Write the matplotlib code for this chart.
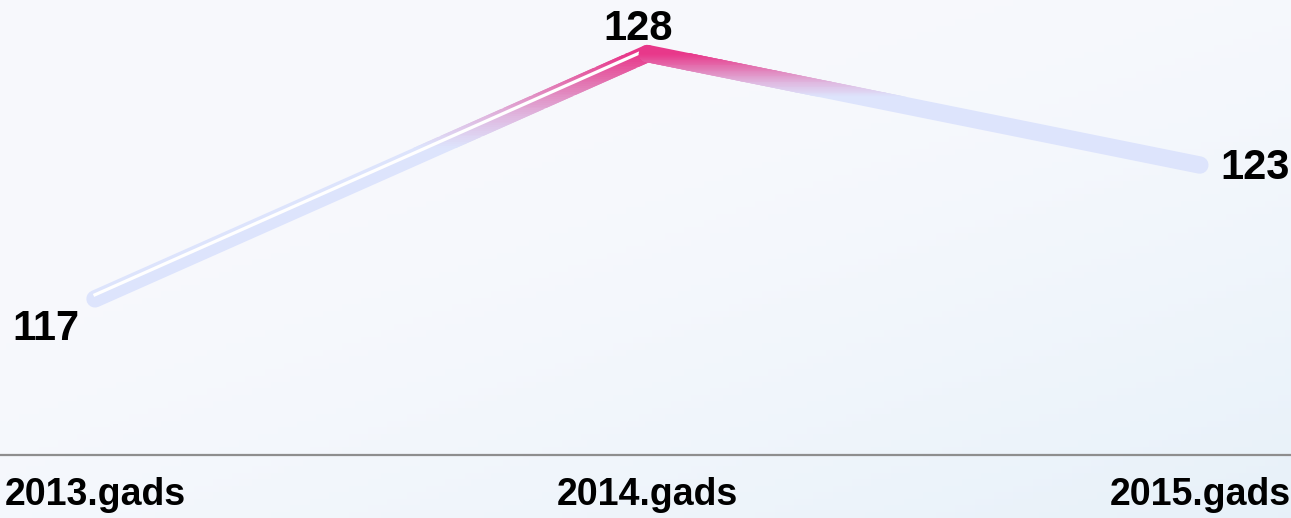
import numpy as np
import matplotlib
matplotlib.use("Agg")
from matplotlib import pyplot as plt
from matplotlib.colors import LinearSegmentedColormap
from matplotlib.transforms import Bbox, TransformedBbox, offset_copy

years = ["2013.gads", "2014.gads", "2015.gads"]
values = [117, 128, 123]

plt.rcParams["font.family"] = ["Liberation Sans", "DejaVu Sans"]
plt.rcParams["font.weight"] = "bold"

fig = plt.figure(figsize=(12.91, 5.18), dpi=100)

# soft background gradient (white-ish, bluer toward bottom right)
bg = fig.add_axes([0, 0, 1, 1], zorder=-10)
gx, gy = np.meshgrid(np.linspace(0, 1, 200), np.linspace(0, 1, 80))
t = np.clip((gx * 0.6 + gy * 0.7) - 0.45, 0, 1) ** 1.4
c0 = np.array([0.969, 0.976, 0.992])
c1 = np.array([0.890, 0.937, 0.973])
img = c0 + (c1 - c0) * t[..., None]
bg.imshow(img, aspect="auto", extent=[0, 1, 0, 1], origin="upper")
bg.axis("off")

ax = fig.add_axes([0, 63 / 518, 1, 455 / 518])
ax.patch.set_alpha(0)
xs = np.arange(len(years))
ax.set_xlim(-0.172, 2.165)
ax.set_ylim(110, 130.4)

# each segment gets its own vertical gradient: pink at its top, lavender lower down
cmap = LinearSegmentedColormap.from_list(
    "pk", ["#e8388a", "#e27ab5", "#dfb8e0", "#dde4fc"])
fade = 0.38   # share of the segment height over which pink fades out
nb = 50
zs = [3, 5]
for i in range(len(xs) - 1):
    sx, sy = xs[i:i + 2], values[i:i + 2]
    top, bot = max(sy), min(sy)
    span = (top - bot) * fade
    edges = np.linspace(top - span, top, nb + 1)
    bands = [(100, edges[0])] + [(edges[k], edges[k + 1]) for k in range(nb)] + [(top, 140)]
    for b0, b1 in bands:
        frac = np.clip((top - (b0 + b1) / 2) / span, 0, 1)
        ln, = ax.plot(sx, sy, color=cmap(frac), lw=12.5,
                      solid_capstyle="round", zorder=zs[i])
        ln.set_clip_box(TransformedBbox(Bbox([[-1, b0 - 0.04], [3, b1 + 0.04]]), ax.transData))

# white highlight stripe on the rising segment
tr = offset_copy(ax.transData, fig=fig, x=-0.405 * 2.7, y=0.914 * 2.7, units="points")
ax.plot(xs[:2], values[:2], color="white", lw=2.3, solid_capstyle="butt",
        transform=tr, zorder=4)

# value labels
offsets = [(-35, -22), (-7, 18), (40, -2)]
for x, v, (dx, dy) in zip(xs, values, offsets):
    ax.annotate(str(v), (x, v), xytext=(dx, dy), textcoords="offset points",
                ha="center", va="center", fontsize=30, fontweight="bold")

ax.set_xticks(xs)
ax.set_xticklabels(years, fontsize=27, fontweight="bold")
ax.tick_params(axis="x", length=0, pad=16)
ax.set_yticks([])
for s in ["top", "left", "right"]:
    ax.spines[s].set_visible(False)
ax.spines["bottom"].set_color("#8e8e8e")
ax.spines["bottom"].set_linewidth(1.6)

fig.savefig("out.png", dpi=100)
